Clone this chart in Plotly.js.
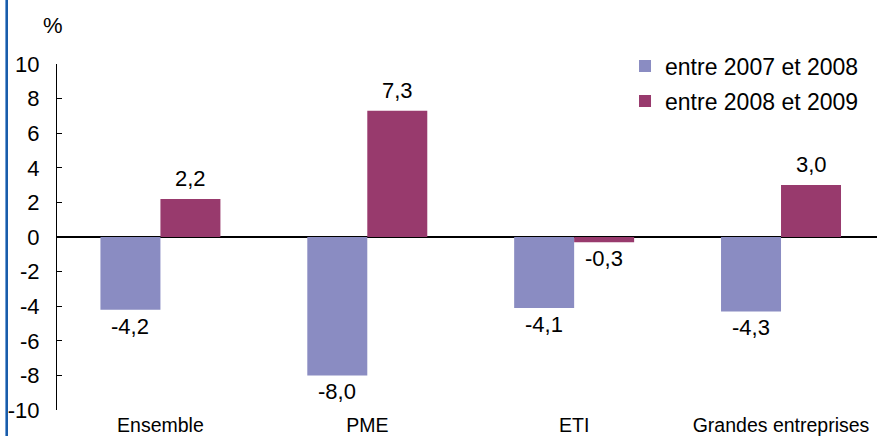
<!DOCTYPE html>
<html>
<head>
<meta charset="utf-8">
<script src="https://cdn.plot.ly/plotly-3.0.1.min.js"></script>
<style>
  html, body { margin: 0; padding: 0; background: #ffffff; }
  #wrap { position: relative; width: 877px; height: 436px; overflow: hidden; }
  #chart { position: absolute; left: 0; top: 0; width: 877px; height: 436px; }
  #edge { position: absolute; left: 5px; top: 0; width: 3px; height: 436px; background: #1a5ca9; border-left: 1px solid #6f9fd6; box-sizing: border-box; }
</style>
</head>
<body>
<div id="wrap">
  <div id="chart"></div>
  <div id="edge"></div>
</div>
<script>
// Data
const categories = ["Ensemble", "PME", "ETI", "Grandes entreprises"];
const seriesNames = ["entre 2007 et 2008", "entre 2008 et 2009"];
const values2007_2008 = [-4.2, -8.0, -4.1, -4.3];
const values2008_2009 = [2.2, 7.3, -0.3, 3.0];
const yTickVals = [-10, -8, -6, -4, -2, 0, 2, 4, 6, 8, 10];
const yTickText = ["-10", "-8", "-6", "-4", "-2", "0", "2", "4", "6", "8", "10"];
const unitLabel = "%";

const colors = ["#8a8cc2", "#983a6d"];
const FONT = "Liberation Sans, Arial, sans-serif";

const fmt = v => v.toFixed(1).replace(".", ",");

const traces = [
  { type: "bar", name: seriesNames[0], x: categories, y: values2007_2008,
    marker: { color: colors[0] }, legendgroup: "a", hoverinfo: "none" },
  { type: "bar", name: seriesNames[1], x: categories, y: values2008_2009,
    marker: { color: colors[1] }, legendgroup: "b", hoverinfo: "none" }
];

const bargap = 0.42;
const half = (1 - bargap) / 4; // offset of each bar's centre from the category centre

const annotations = [];
[values2007_2008, values2008_2009].forEach((vals, s) => {
  vals.forEach((v, i) => {
    annotations.push({
      x: i + (s === 0 ? -half : half), y: v, xref: "x", yref: "y",
      text: fmt(v), showarrow: false,
      yanchor: v >= 0 ? "bottom" : "top",
      yshift: v >= 0 ? 6 : -2,
      font: { family: FONT, size: 22, color: "#000000" }
    });
  });
});
annotations.push({
  xref: "paper", yref: "paper", x: -0.005, y: 1.11, text: unitLabel,
  showarrow: false, xanchor: "center", yanchor: "middle",
  font: { family: FONT, size: 22, color: "#000000" }
});

const layout = {
  width: 877, height: 436,
  margin: { l: 57, r: 0, t: 64, b: 26, pad: 0 },
  paper_bgcolor: "#ffffff", plot_bgcolor: "#ffffff",
  barmode: "group", bargap: bargap, bargroupgap: 0,
  font: { family: FONT, color: "#000000" },
  xaxis: {
    type: "category", range: [-0.5, 3.464],
    showline: false, showgrid: false, zeroline: false, ticks: "",
    ticklabelstandoff: 1,
    tickfont: { family: FONT, size: 19.5, color: "#000000" },
    fixedrange: true
  },
  yaxis: {
    range: [-10, 10], tickvals: yTickVals, ticktext: yTickText,
    showline: true, linecolor: "#000000", linewidth: 1,
    ticks: "inside", ticklen: 5, tickcolor: "#000000", tickwidth: 1,
    showgrid: false, zeroline: true, zerolinecolor: "#000000", zerolinewidth: 1.5,
    ticklabelstandoff: 12,
    tickfont: { family: FONT, size: 22, color: "#000000" },
    fixedrange: true
  },
  showlegend: true,
  legend: {
    x: 0.6927, y: 1.056, xanchor: "left", yanchor: "top",
    bgcolor: "rgba(0,0,0,0)", borderwidth: 0,
    traceorder: "grouped", tracegroupgap: 2,
    font: { family: FONT, size: 23, color: "#000000" }
  },
  annotations: annotations
};

Plotly.newPlot("chart", traces, layout, { displayModeBar: false, staticPlot: true });
</script>
</body>
</html>
